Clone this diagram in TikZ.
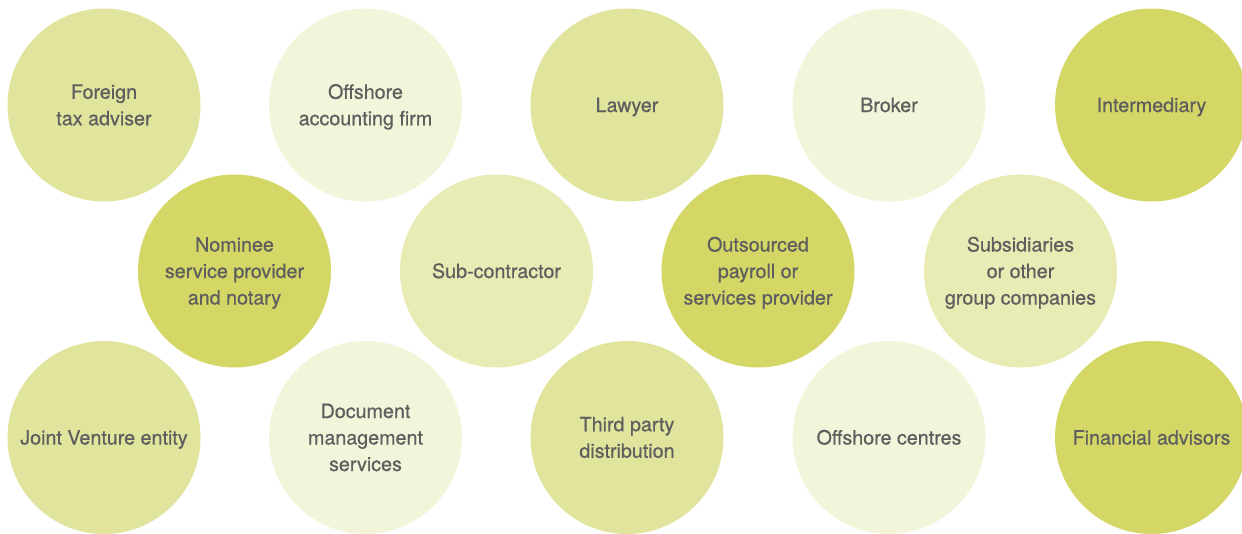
\documentclass[tikz,border=0pt]{standalone}
\usepackage{fontspec}
\setmainfont{TeX Gyre Heros}[FakeBold=0.6]
\definecolor{oliveA}{HTML}{D4D766}
\definecolor{oliveB}{HTML}{E0E49C}
\definecolor{oliveC}{HTML}{E8EBB3}
\definecolor{oliveD}{HTML}{F3F5DA}
\definecolor{labelgrey}{HTML}{5E5E5E}
\tikzset{
  bubble/.style 2 args={circle, fill=#1, minimum size=193pt, inner sep=0pt,
    align=center, text=labelgrey,
    text height={\dimexpr 14pt+26.5pt*(#2-1)\relax}, text depth=0pt,
    font=\fontsize{19.7}{26.5}\selectfont}
}
\begin{document}
\begin{tikzpicture}[x=1pt,y=-1pt]
\useasboundingbox (0,0) rectangle (1242,533);
\clip (0,0) rectangle (1242,533);
% top row
\node[bubble={oliveB}{2}] (taxadv) at (104,105) {Foreign\\tax adviser};
\node[bubble={oliveD}{2}] (accfirm) at (365.5,105) {Offshore\\accounting firm};
\node[bubble={oliveB}{1}] (lawyer) at (627,105) {Lawyer};
\node[bubble={oliveD}{1}] (broker) at (889,105) {Broker};
\node[bubble={oliveA}{1}] (intermed) at (1151.5,105) {Intermediary};
% middle row
\node[bubble={oliveA}{3}] (nominee) at (234.5,271) {Nominee\\service provider\\and notary};
\node[bubble={oliveC}{1}] (subcon) at (496.5,271) {Sub-contractor};
\node[bubble={oliveA}{3}] (payroll) at (758,271) {Outsourced\\payroll or\\services provider};
\node[bubble={oliveC}{3}] (subsid) at (1020.5,271) {Subsidiaries\\or other\\group companies};
% bottom row
\node[bubble={oliveB}{1}] (jointv) at (104,437.5) {Joint Venture entity};
\node[bubble={oliveD}{3}] (docmgmt) at (365.5,437.5) {Document\\management\\services};
\node[bubble={oliveB}{2}] (thirdp) at (627,437.5) {Third party\\distribution};
\node[bubble={oliveD}{1}] (centres) at (889,437.5) {Offshore centres};
\node[bubble={oliveA}{1}] (finadv) at (1151.5,437.5) {Financial advisors};
\end{tikzpicture}
\end{document}
